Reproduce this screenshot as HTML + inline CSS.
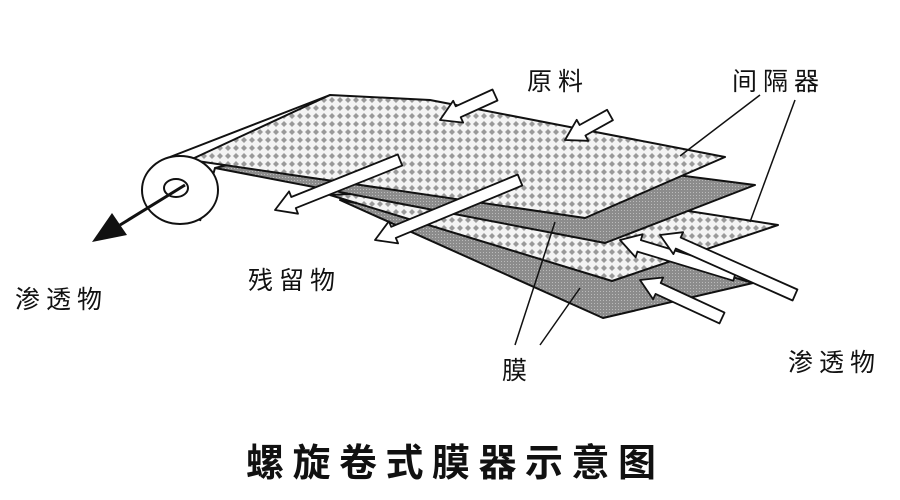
<!DOCTYPE html>
<html><head><meta charset="utf-8"><style>
body{margin:0;background:#fff;width:900px;height:500px;overflow:hidden}
svg{position:absolute;left:0;top:0}
.t{font-family:"Liberation Sans","Noto Sans CJK SC",sans-serif;fill:#111;letter-spacing:6px}
</style></head><body>
<svg id="s" width="900" height="500" viewBox="0 0 900 500">
<defs>
<pattern id="dot" width="8" height="8" patternUnits="userSpaceOnUse">
<rect width="8" height="8" fill="#f4f4f4"/>
<path d="M4 1L7 4L4 7L1 4Z" fill="#9a9a9a"/>
</pattern>
<pattern id="dk" width="3" height="3" patternUnits="userSpaceOnUse">
<rect width="3" height="3" fill="#8c8c8c"/><rect width="1" height="1" fill="#bbb"/>
</pattern>
</defs>
<g stroke="#111" stroke-width="2" stroke-linejoin="round">
<polygon points="340,200 603,318 753,283 640,250 420,215" fill="url(#dk)"/>
<polygon points="330,195 612,281 778,225 650,205 420,190" fill="url(#dot)"/>
<polygon points="215,168 605,243 755,185 560,160 330,140" fill="url(#dk)"/>
<polygon points="190,160 330,95 430,100 725,157 585,218" fill="url(#dot)"/>
<path d="M170,157 L330,95" fill="none"/>
<path d="M200,221 L215,168" fill="none"/>
<ellipse cx="180" cy="190" rx="38" ry="34" fill="#fff"/>
<ellipse cx="176" cy="188" rx="12" ry="9" fill="#fff"/>
</g>
<g stroke="#111" stroke-width="1.5">
<line x1="760" y1="95" x2="680" y2="156"/>
<line x1="795" y1="100" x2="750" y2="222"/>
<line x1="515" y1="345" x2="555" y2="222"/>
<line x1="540" y1="345" x2="580" y2="288"/>
</g>
<g id="arr" fill="#fff" stroke="#111" stroke-width="1.8" stroke-linejoin="round"></g>
<line x1="185" y1="185" x2="120" y2="225" stroke="#111" stroke-width="3"/>
<polygon points="92,242 112,213 127,235" fill="#111"/>
<text class="t" x="527" y="90" font-size="25">原料</text>
<text class="t" x="732" y="90" font-size="25">间隔器</text>
<text class="t" x="15" y="308" font-size="25">渗透物</text>
<text class="t" x="248" y="289" font-size="25">残留物</text>
<text class="t" x="502" y="379" font-size="25">膜</text>
<text class="t" x="788" y="371" font-size="25">渗透物</text>
<text class="t" x="246" y="476" font-size="38" letter-spacing="8" font-weight="bold" style="letter-spacing:8.5px">螺旋卷式膜器示意图</text>
</svg>
<script>
const A=[[495,95,440,120],[610,115,565,140],[400,160,275,210],[520,180,375,240],[735,275,620,240],[795,295,660,235],[722,318,640,280]];
const g=document.getElementById('arr');let h='';
for(const [x1,y1,x2,y2] of A){const dx=x2-x1,dy=y2-y1,L=Math.hypot(dx,dy),ux=dx/L,uy=dy/L,nx=-uy,ny=ux;
const w=6,hw=12,hl=20;const bx=x2-ux*hl,by=y2-uy*hl;
const p=[[x1+nx*w,y1+ny*w],[bx+nx*w,by+ny*w],[bx+nx*hw,by+ny*hw],[x2,y2],[bx-nx*hw,by-ny*hw],[bx-nx*w,by-ny*w],[x1-nx*w,y1-ny*w]];
h+='<polygon points="'+p.map(q=>q[0].toFixed(1)+','+q[1].toFixed(1)).join(' ')+'"/>';}
g.innerHTML=h;
</script>
</body></html>
